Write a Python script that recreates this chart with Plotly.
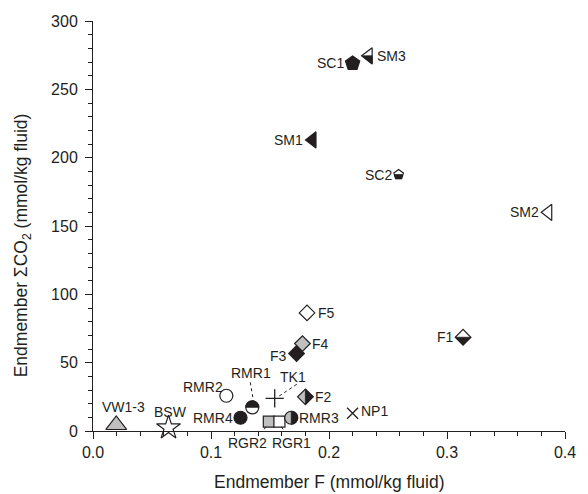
import plotly.graph_objects as go

# ---------------- data ----------------
names = ["VW1-3", "BSW", "RMR2", "RMR4", "RMR1", "TK1", "RGR2", "RGR1", "RMR3",
         "F2", "F3", "F4", "F5", "NP1", "F1", "SM2", "SM1", "SC1", "SM3", "SC2"]
f_values = [0.0197, 0.064, 0.113, 0.125, 0.135, 0.154, 0.149, 0.158, 0.168,
            0.180, 0.1725, 0.1775, 0.1814, 0.220, 0.3136, 0.3858, 0.186, 0.220, 0.2336, 0.259]
co2_values = [4.4, 2.4, 25.8, 9.7, 17.3, 23.9, 6.8, 6.8, 9.7,
              25.0, 56.7, 64.0, 86.4, 13.0, 68.6, 160.0, 213.0, 269.0, 274.5, 187.6]
x_ticks = [0.0, 0.1, 0.2, 0.3, 0.4]
y_ticks = [0, 50, 100, 150, 200, 250, 300]

# ---------------- styles ----------------
BK = "#231f20"
GR = "#bfbfbf"
WH = "#ffffff"
FONT = "Liberation Sans, Arial, sans-serif"

# symbol, size, fill, half-type, half-color, label anchor, xshift, yshift
style = {
    "VW1-3": ("triangle-up", 18, GR, None, None, "center", 7, 18),
    "BSW":   ("star", 18, WH, None, None, "center", 2, 16),
    "RMR2":  ("circle", 13, WH, None, None, "right", -3, 9),
    "RMR4":  ("circle", 13, BK, None, None, "right", -8, 0),
    "RMR1":  ("circle", 13, WH, "circle-top", BK, "center", -1, 34),
    "TK1":   ("cross-thin", 13, BK, None, None, "center", 18, 21),
    "RGR2":  ("square", 11, GR, None, None, "center", -21, -21),
    "RGR1":  ("square", 11, WH, None, None, "center", 12, -21),
    "RMR3":  ("circle", 13, GR, "circle-right", BK, "left", 8, 0),
    "F2":    ("diamond", 12, GR, "diamond-right", BK, "left", 10, 0),
    "F3":    ("diamond", 12, BK, None, None, "right", -10, -2),
    "F4":    ("diamond", 12, GR, None, None, "left", 10, 0),
    "F5":    ("diamond", 12, WH, None, None, "left", 11, 0),
    "NP1":   ("x-thin", 11, BK, None, None, "left", 8, 2),
    "F1":    ("diamond", 12, WH, "diamond-bottom", BK, "right", -9, 0),
    "SM2":   ("triangle-left", 14, WH, None, None, "right", -9, 0),
    "SM1":   ("triangle-left", 14, BK, None, None, "right", -9, 0),
    "SC1":   ("pentagon", 15, BK, None, None, "right", -9, 0),
    "SM3":   ("triangle-left", 14, WH, "tri-left-bottom", BK, "left", 8, 0),
    "SC2":   ("pentagon", 10, WH, "pent-bottom", BK, "right", -7, 0),
}

# dotted leader lines, pixel offsets from marker (x right, y up)
leaders = {
    "RMR1": (-2, 25, 1, 7),
    "TK1": (22, 14, 4, 2),
    "RGR2": (-3, -5, -9, -15),
    "RGR1": (2, -5, 8, -15),
}


def half_path(kind, size):
    r = size / 2.0
    k = 0.5523
    if kind == "circle-top":
        p = [("M", -r, 0), ("C", -r, k * r, -k * r, r, 0, r), ("C", k * r, r, r, k * r, r, 0)]
    elif kind == "circle-right":
        p = [("M", 0, r), ("C", k * r, r, r, k * r, r, 0), ("C", r, -k * r, k * r, -r, 0, -r)]
    elif kind == "diamond-right":
        rs = 1.3 * r
        p = [("M", 0, rs), ("L", rs, 0), ("L", 0, -rs)]
    elif kind == "diamond-bottom":
        rs = 1.3 * r
        p = [("M", -rs, 0), ("L", rs, 0), ("L", 0, -rs)]
    elif kind == "tri-left-bottom":
        rt = r * 2 / 3 ** 0.5
        p = [("M", -r, 0), ("L", r / 2, 0), ("L", r / 2, -rt)]
    elif kind == "pent-bottom":
        p = [("M", -0.8507 * r, 0), ("L", 0.8507 * r, 0), ("L", 0.588 * r, -0.809 * r),
             ("L", -0.588 * r, -0.809 * r)]
    else:
        return None
    s = ""
    for seg in p:
        s += seg[0] + " " + " ".join("%.2f,%.2f" % (seg[i], seg[i + 1]) for i in range(1, len(seg), 2)) + " "
    return s + "Z"


fig = go.Figure()
shapes = []
annotations = []

for n, x, y in zip(names, f_values, co2_values):
    sym, size, fill, half, hcol, anc, xs, ys = style[n]
    thin = sym.endswith("-thin")
    fig.add_trace(go.Scatter(
        x=[x], y=[y], mode="markers", showlegend=False, cliponaxis=False,
        marker=dict(symbol=sym, size=size, color=fill if not thin else BK,
                    line=dict(color=BK, width=1.2 if not thin else 1.3)),
        hoverinfo="skip"))
    if half:
        shapes.append(dict(type="path", xref="x", yref="y", xsizemode="pixel", ysizemode="pixel",
                           xanchor=x, yanchor=y, path=half_path(half, size),
                           fillcolor=hcol, line=dict(color=BK, width=0.8), layer="above"))
    annotations.append(dict(x=x, y=y, xref="x", yref="y", text=n, showarrow=False,
                            xanchor=anc, yanchor="middle", xshift=xs, yshift=ys,
                            borderpad=0, borderwidth=0,
                            font=dict(family=FONT, size=14, color=BK)))
    if n in leaders:
        x0, y0, x1, y1 = leaders[n]
        shapes.append(dict(type="line", xref="x", yref="y", xsizemode="pixel", ysizemode="pixel",
                           xanchor=x, yanchor=y, x0=x0, y0=y0, x1=x1, y1=y1,
                           line=dict(color=BK, width=1, dash="dot"), layer="above"))

# axis titles
annotations.append(dict(x=0.5, y=-0.124, xref="paper", yref="paper",
                        text="Endmember F (mmol/kg fluid)", showarrow=False,
                        xanchor="center", yanchor="middle",
                        font=dict(family=FONT, size=17.5, color=BK)))
annotations.append(dict(x=-0.15, y=136, xref="paper", yref="y",
                        text="Endmember ΣCO<sub>2</sub> (mmol/kg fluid)", showarrow=False,
                        textangle=-90, xanchor="center", yanchor="middle",
                        font=dict(family=FONT, size=17.5, color=BK)))

axis_common = dict(showline=True, linecolor=BK, linewidth=1, ticks="outside", ticklen=7,
                   tickcolor=BK, tickwidth=1, showgrid=False, zeroline=False,
                   tickfont=dict(family=FONT, size=16, color=BK), mirror=False)

fig.update_layout(
    width=588, height=494,
    margin=dict(l=93, r=15, t=21, b=63),
    paper_bgcolor="white", plot_bgcolor="white",
    xaxis=dict(range=[0, 0.4], tickvals=x_ticks, ticktext=["%.1f" % v for v in x_ticks],
               minor=dict(dtick=0.02, ticks="outside", ticklen=4, tickcolor=BK, showgrid=False),
               **axis_common),
    yaxis=dict(range=[0, 300], tickvals=y_ticks, ticklabelstandoff=4,
               minor=dict(dtick=10, ticks="outside", ticklen=4, tickcolor=BK, showgrid=False),
               **axis_common),
    shapes=shapes, annotations=annotations,
)

fig.write_html("out.html")
